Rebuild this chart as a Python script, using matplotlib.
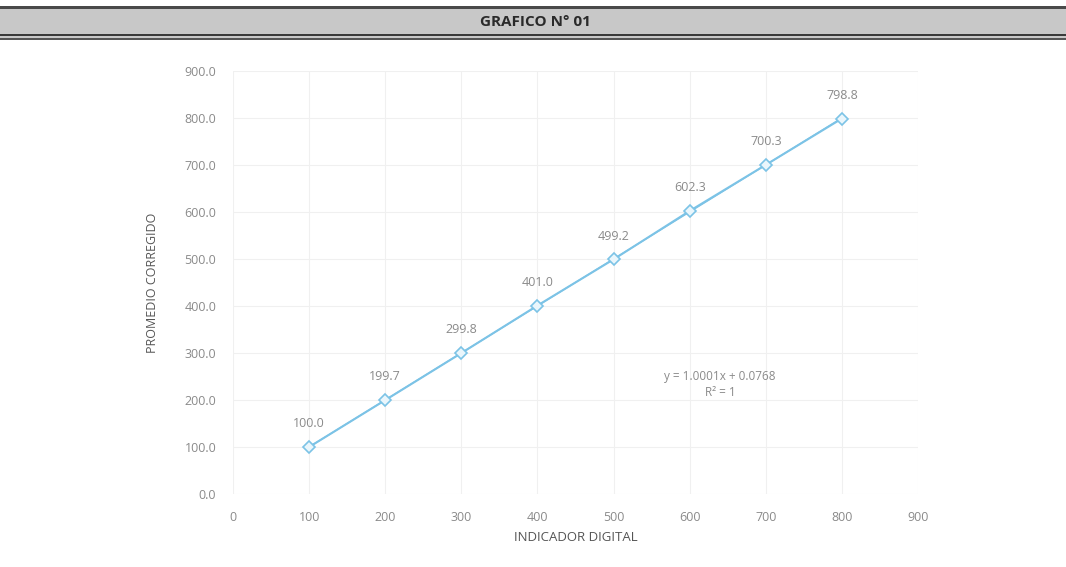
import numpy as np
import matplotlib
matplotlib.use('Agg')
import matplotlib.pyplot as plt
from matplotlib.patches import Rectangle

plt.rcParams['font.family'] = ['Open Sans', 'DejaVu Sans']

indicador = [100, 200, 300, 400, 500, 600, 700, 800]
promedio = [100.0, 199.7, 299.8, 401.0, 499.2, 602.3, 700.3, 798.8]
etiquetas = ['100.0', '199.7', '299.8', '401.0', '499.2', '602.3', '700.3', '798.8']
ecuacion = 'y = 1.0001x + 0.0768\nR² = 1'

azul = '#7cc3e6'
gris_txt = '#8a8a8a'

fig = plt.figure(figsize=(10.66, 5.67), dpi=100)

# header band
fig.patches.append(Rectangle((0, 1 - 38/567), 1, 32/567, transform=fig.transFigure,
                             facecolor='#c8c8c8', edgecolor='none', zorder=0))
fig.patches.append(Rectangle((0, 1 - 9/567), 1, 3/567, transform=fig.transFigure,
                             facecolor='#4a4a4a', edgecolor='none', zorder=1))
fig.patches.append(Rectangle((0, 1 - 36/567), 1, 2/567, transform=fig.transFigure,
                             facecolor='#3a3a3a', edgecolor='none', zorder=1))
fig.patches.append(Rectangle((0, 1 - 40/567), 1, 2/567, transform=fig.transFigure,
                             facecolor='#555555', edgecolor='none', zorder=1))
fig.text(0.502, 1 - 22/567, 'GRAFICO N° 01', ha='center', va='center',
         fontsize=11, fontweight='bold', color='#2a2a2a')

ax = fig.add_axes([233/1066, 1 - 494/567, 685/1066, 423/567])

ax.plot(indicador, promedio, color=azul, linewidth=1.5, marker='D', markersize=6,
        markerfacecolor='#eaf6fc', markeredgecolor=azul, markeredgewidth=1.2, zorder=3)

# linear trendline
coef = np.polyfit(indicador, promedio, 1)
xs = np.array([indicador[0], indicador[-1]])
ax.plot(xs, np.polyval(coef, xs), color=azul, linewidth=1.0, zorder=2)

for x, y, t in zip(indicador, promedio, etiquetas):
    ax.annotate(t, (x, y), xytext=(0, 12), textcoords='offset points',
                ha='center', va='bottom', fontsize=9, color=gris_txt)

ax.text(640, 233, ecuacion, ha='center', va='center', fontsize=8.5,
        color=gris_txt, linespacing=1.3)

ax.set_xlim(0, 900)
ax.set_ylim(0, 900)
ax.set_xticks(range(0, 901, 100))
ax.set_yticks(range(0, 901, 100))
ax.set_yticklabels([f'{v:.1f}' for v in range(0, 901, 100)])
ax.tick_params(length=0, labelsize=9, labelcolor=gris_txt, pad=12)
ax.grid(True, color='#f0f0f0', linewidth=0.8)
ax.set_axisbelow(True)
for s in ax.spines.values():
    s.set_visible(False)

ax.set_xlabel('INDICADOR DIGITAL', fontsize=9.5, color='#555555', labelpad=5)
ax.set_ylabel('PROMEDIO CORREGIDO', fontsize=9, color='#555555', labelpad=18)

fig.savefig('out.png', dpi=100)
